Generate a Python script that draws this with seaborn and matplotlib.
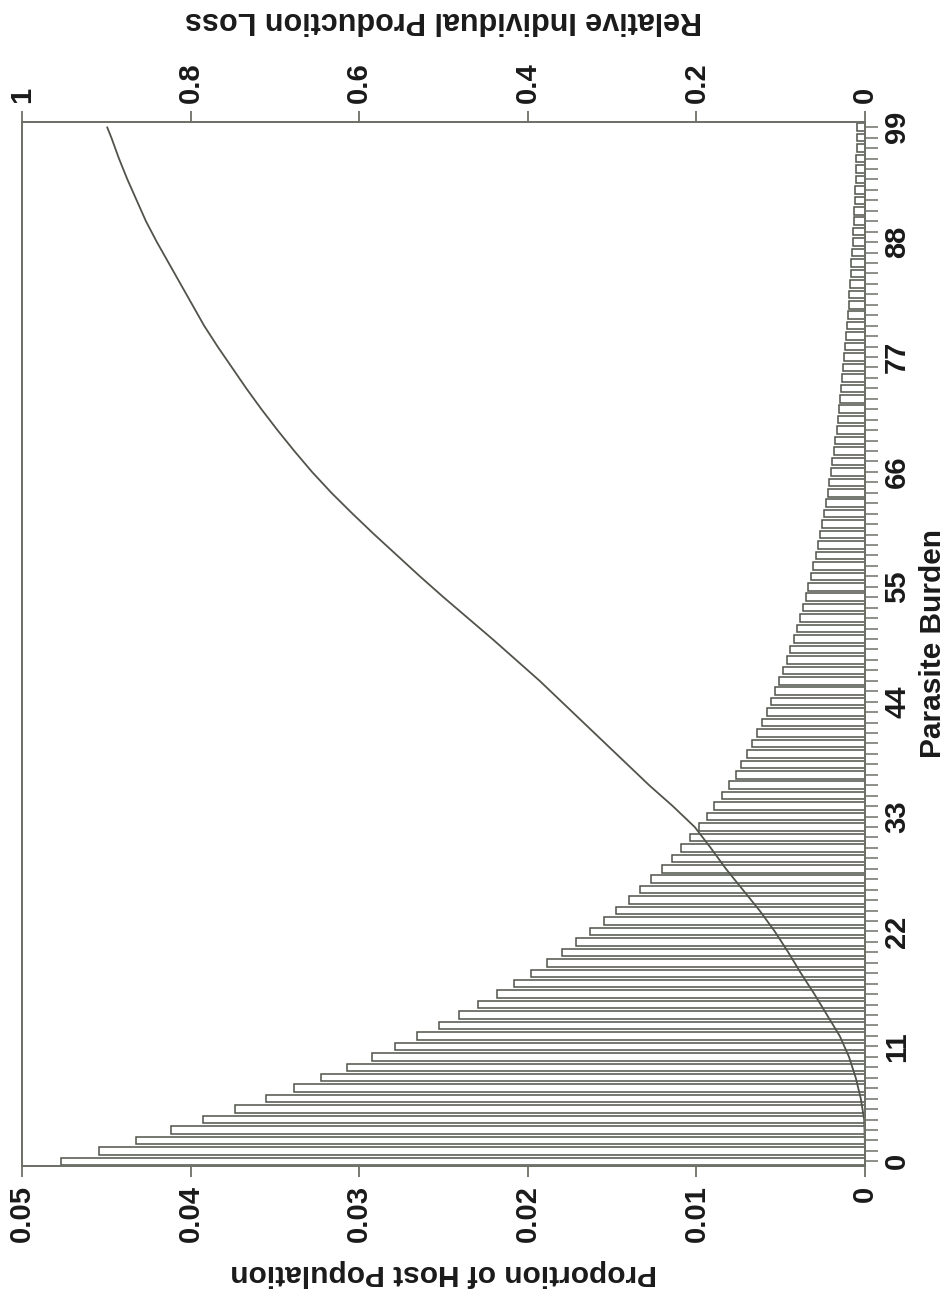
import numpy as np
import pandas as pd
import matplotlib
matplotlib.use("Agg")
import matplotlib.pyplot as plt
from matplotlib.ticker import MultipleLocator, FixedLocator
import seaborn as sns

# ---------------- data ----------------
burden = list(range(100))
proportion = [
    0.04769, 0.04543, 0.04324, 0.04116, 0.03927, 0.03737, 0.03553, 0.03387, 0.03227, 0.03072,
    0.02924, 0.02788, 0.02655, 0.02529, 0.02408, 0.02294, 0.02185, 0.02081, 0.01981, 0.01887,
    0.01797, 0.01712, 0.01630, 0.01550, 0.01475, 0.01402, 0.01334, 0.01268, 0.01206, 0.01147,
    0.01091, 0.01038, 0.00987, 0.00939, 0.00893, 0.00849, 0.00808, 0.00768, 0.00734, 0.00701,
    0.00669, 0.00639, 0.00611, 0.00583, 0.00557, 0.00532, 0.00508, 0.00486, 0.00464, 0.00443,
    0.00423, 0.00404, 0.00386, 0.00369, 0.00352, 0.00336, 0.00321, 0.00307, 0.00293, 0.00280,
    0.00267, 0.00255, 0.00244, 0.00233, 0.00222, 0.00212, 0.00203, 0.00194, 0.00185, 0.00177,
    0.00169, 0.00161, 0.00154, 0.00147, 0.00140, 0.00134, 0.00128, 0.00122, 0.00117, 0.00112,
    0.00107, 0.00102, 0.00097, 0.00093, 0.00089, 0.00085, 0.00081, 0.00077, 0.00074, 0.00071,
    0.00067, 0.00064, 0.00061, 0.00059, 0.00056, 0.00054, 0.00051, 0.00049, 0.00047, 0.00045,
]

curve_burden = [0, 2, 4, 6, 8, 10, 12, 14, 16, 18, 20, 22, 24, 26, 28, 30, 32, 34, 36, 38,
                40, 42, 44, 46, 48, 50, 52, 54, 56, 58, 60, 62, 64, 66, 68, 70, 72, 74, 76,
                78, 80, 82, 84, 86, 88, 90, 92, 94, 96, 98, 99]
curve_loss = [0.0, 0.0002, 0.001, 0.005, 0.011, 0.019, 0.030, 0.045, 0.060, 0.076, 0.091,
              0.107, 0.125, 0.145, 0.165, 0.183, 0.202, 0.228, 0.256, 0.282, 0.308, 0.334,
              0.360, 0.386, 0.414, 0.442, 0.471, 0.500, 0.528, 0.555, 0.582, 0.608, 0.633,
              0.656, 0.677, 0.697, 0.716, 0.734, 0.751, 0.768, 0.784, 0.798, 0.812, 0.826,
              0.840, 0.853, 0.864, 0.875, 0.885, 0.894, 0.899]

prop_ticks = [0.05, 0.04, 0.03, 0.02, 0.01, 0]
prop_labels = ["0.05", "0.04", "0.03", "0.02", "0.01", "0"]
burden_ticks = [0, 11, 22, 33, 44, 55, 66, 77, 88, 99]
loss_ticks = [1, 0.8, 0.6, 0.4, 0.2, 0]
loss_labels = ["1", "0.8", "0.6", "0.4", "0.2", "0"]

# ---------------- style ----------------
sns.set_style("white")
plt.rcParams["font.family"] = ["Liberation Sans", "DejaVu Sans"]
plt.rcParams["font.weight"] = "bold"

axis_col = "#6d7167"
bar_col = "#4f5349"
line_col = "#50544b"
text_col = "#1a1a1a"

fig = plt.figure(figsize=(9.49, 12.99), dpi=100)
ax = fig.add_axes([0.0232, 0.1024, 0.8883, 0.8037])

df = pd.DataFrame({"burden": burden, "proportion": proportion})
sns.barplot(data=df, x="proportion", y="burden", orient="h", native_scale=True,
            color="white", edgecolor=bar_col, linewidth=1.1, width=0.72,
            errorbar=None, ax=ax)

ax.set_xlim(0.05, 0)
ax.set_ylim(-0.45, 99.5)

for s in ax.spines.values():
    s.set_visible(True)
    s.set_color(axis_col)
    s.set_linewidth(1.4)

# bottom axis (proportion)
ax.xaxis.set_major_locator(FixedLocator(prop_ticks))
ax.set_xticklabels(prop_labels, rotation=90, fontsize=21, fontweight="bold", color=text_col)
ax.tick_params(axis="x", bottom=True, top=False, direction="out", length=8, width=1.3,
               color=axis_col, pad=6)
ax.set_xlabel("Proportion of Host Population", rotation=180, fontsize=21.5,
              fontweight="bold", color=text_col, labelpad=12)

# right axis (parasite burden)
ax.yaxis.tick_right()
ax.yaxis.set_label_position("right")
ax.yaxis.set_major_locator(FixedLocator(burden_ticks))
ax.yaxis.set_minor_locator(MultipleLocator(1))
ax.set_yticklabels([str(t) for t in burden_ticks], rotation=90, va="center",
                   fontsize=21, color=text_col)
ax.tick_params(axis="y", which="both", left=False, right=True, direction="out",
               length=9, width=1.1, color=axis_col, pad=4)
ax.set_ylabel("Parasite Burden", fontsize=21.5, fontweight="bold", color=text_col,
              labelpad=6)

# top axis (relative loss)
ax2 = ax.twiny()
sns.lineplot(x=curve_loss, y=curve_burden, sort=False, estimator=None,
             color=line_col, linewidth=1.3, ax=ax2)
ax2.set_xlim(1, 0)
ax2.set_ylim(-0.45, 99.5)
ax2.xaxis.set_major_locator(FixedLocator(loss_ticks))
ax2.set_xticklabels(loss_labels, rotation=90, fontsize=21, fontweight="bold", color=text_col)
ax2.tick_params(axis="x", top=True, bottom=False, labeltop=True, labelbottom=False,
                direction="out", length=8, width=1.3, color=axis_col, pad=6)
ax2.xaxis.set_label_position("top")
ax2.set_xlabel("Relative Individual Production Loss", rotation=180, fontsize=22,
               fontweight="bold", color=text_col, labelpad=24)
for s in ax2.spines.values():
    s.set_color(axis_col)
    s.set_linewidth(1.4)

fig.savefig("out.png", dpi=100, facecolor="white")
